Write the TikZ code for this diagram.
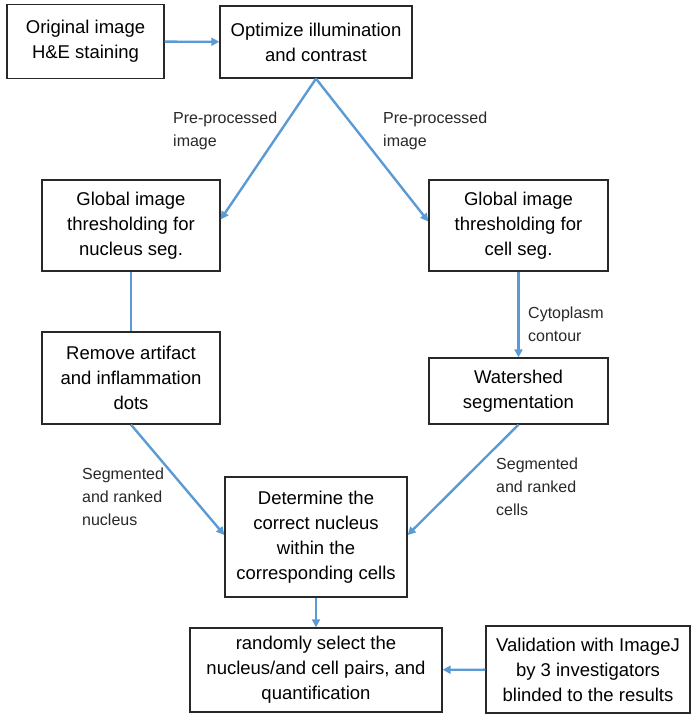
\documentclass[tikz,border=0pt]{standalone}
\usepackage{fontspec}
\setmainfont{Liberation Sans}
\usepackage{xcolor}
\usepackage{tikz}
\usetikzlibrary{arrows.meta}
\definecolor{flowblue}{RGB}{91,155,213}
\definecolor{boxgray}{RGB}{40,40,40}

\begin{document}
\begin{tikzpicture}[x=1pt, y=-1pt,
  box/.style={draw=boxgray, line width=1.3pt, align=center, inner sep=0pt, font=\fontsize{18.5}{25}\selectfont},
  flow/.style={flowblue, line width=2.4pt, -{Triangle[length=8pt, width=8pt]}},
  link/.style={flowblue, line width=2.4pt},
  note/.style={anchor=north west, align=left, inner sep=0pt, text=boxgray, font=\fontsize{16}{23}\selectfont}]
  \useasboundingbox (0,0) rectangle (692,715);
  % boxes
  \node[box, minimum width=157pt, minimum height=74pt] (orig) at (85.5,41.5) {Original image\\H\&E staining};
  \node[box, minimum width=192pt, minimum height=72pt] (optim) at (316,42) {Optimize illumination\\and contrast};
  \node[box, minimum width=178pt, minimum height=91pt] (nucgt) at (131,225.5) {Global image\\thresholding for\\nucleus seg.};
  \node[box, minimum width=179pt, minimum height=91pt] (cellgt) at (518.5,225.5) {Global image\\thresholding for\\cell seg.};
  \node[box, minimum width=178pt, minimum height=92pt] (artifact) at (131,378) {Remove artifact\\and inflammation\\dots};
  \node[box, minimum width=179pt, minimum height=66pt] (watershed) at (518.5,391) {Watershed\\segmentation};
  \node[box, minimum width=182pt, minimum height=120pt] (match) at (316,537) {Determine the\\correct nucleus\\within the\\corresponding cells};
  \node[box, minimum width=252pt, minimum height=84pt] (select) at (316,670) {randomly select the\\nucleus/and cell pairs, and\\quantification};
  \node[box, minimum width=204pt, minimum height=87pt] (valid) at (588,669.5) {Validation with ImageJ\\by 3 investigators\\blinded to the results};
  % connectors
  \draw[flow] (orig) -- (optim);
  \draw[flow] (optim.south) -- ([yshift=6pt]nucgt.east);
  \draw[flow] (optim.south) -- ([yshift=4pt]cellgt.west);
  \draw[link] (nucgt) -- (artifact);
  \draw[flow] (cellgt) -- (watershed);
  \draw[flow] (artifact.south) -- ([yshift=2pt]match.west);
  \draw[flow] (watershed.south) -- ([yshift=2pt]match.east);
  \draw[flow] (match) -- (select);
  \draw[flow] (valid) -- (select);
  % labels
  \node[note] (pre1) at (173,112) {Pre-processed\\image};
  \node[note] (pre2) at (383,112) {Pre-processed\\image};
  \node[note] (cyto) at (528,307) {Cytoplasm\\contour};
  \node[note] (segnuc) at (82,468) {Segmented\\and ranked\\nucleus};
  \node[note] (segcell) at (496,458) {Segmented\\and ranked\\cells};
\end{tikzpicture}
\end{document}
